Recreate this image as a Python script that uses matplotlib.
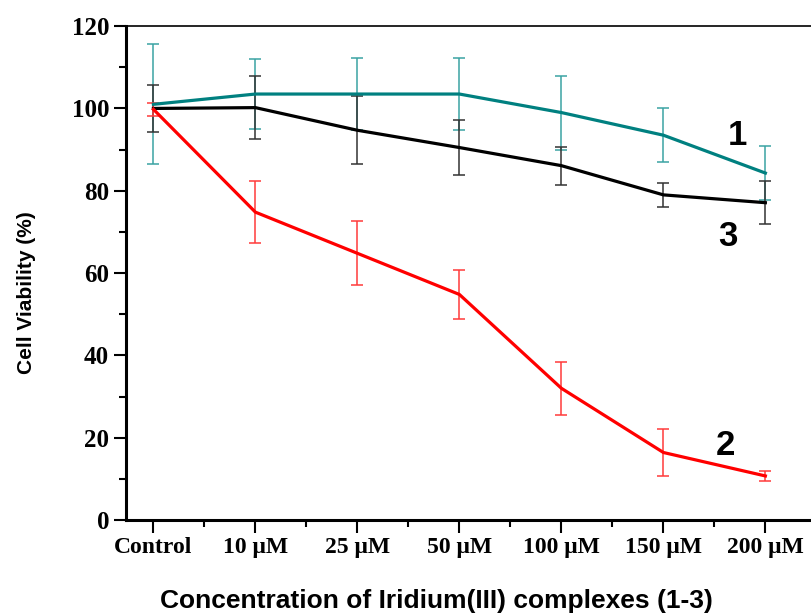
import numpy as np
import matplotlib
matplotlib.use("Agg")
import matplotlib.pyplot as plt

# tick labels / categories
labels = ["Control", "10 \u03bcM", "25 \u03bcM", "50 \u03bcM", "100 \u03bcM", "150 \u03bcM", "200 \u03bcM"]

# complex 1 (teal)
v1 = [101.0, 103.5, 103.5, 103.5, 99.0, 93.5, 84.3]
e1 = [14.6, 8.6, 8.7, 8.7, 9.0, 6.5, 6.5]
# complex 2 (red)
v2 = [99.8, 74.8, 64.8, 54.8, 32.0, 16.4, 10.7]
e2 = [1.6, 7.5, 7.8, 5.9, 6.4, 5.6, 1.3]
# complex 3 (black)
v3 = [100.0, 100.2, 94.7, 90.5, 86.1, 79.0, 77.1]
e3 = [5.8, 7.6, 8.3, 6.6, 4.6, 3.0, 5.3]

serif = "Liberation Serif"
sans = "Liberation Sans"

fig = plt.figure(figsize=(8.12, 6.15), dpi=100)
ax = fig.add_axes([0.155, 0.1545, 0.8504, 0.803])

x = np.arange(len(labels))

series = [
    (v1, e1, "#008080", "#3aa3a3"),
    (v3, e3, "black", "#333333"),
    (v2, e2, "#ff0000", "#ff3b3b"),
]
for vals, errs, lc, ec in series:
    ax.errorbar(x, vals, yerr=errs, color=lc, ecolor=ec, lw=2.3,
                elinewidth=1.1, capsize=4.5, capthick=1.1)

# curve numbers
ax.text(5.63, 91, "1", fontsize=25, fontweight="bold", family=sans)
ax.text(5.54, 66.5, "3", fontsize=25, fontweight="bold", family=sans)
ax.text(5.51, 15.8, "2", fontsize=25, fontweight="bold", family=sans)

ax.set_xlim(-0.27, 6.5)
ax.set_ylim(0, 120)
ax.set_xticks(x)
ax.set_xticklabels(labels, fontsize=17, fontweight="bold", family=serif)
ax.set_xticks(x[:-1] + 0.5, minor=True)
ax.set_yticks(np.arange(0, 121, 20))
ax.set_yticks(np.arange(10, 120, 20), minor=True)
for t in ax.get_yticklabels():
    t.set_fontsize(18)
    t.set_fontweight("bold")
    t.set_family(serif)

ax.tick_params(which="major", direction="out", length=9, width=1.5, pad=3)
ax.tick_params(which="minor", direction="out", length=5, width=1.5)
ax.tick_params(axis="x", which="both", top=False)

for s in ["left", "bottom"]:
    ax.spines[s].set_linewidth(2.2)
ax.spines["top"].set_linewidth(1.2)
ax.spines["right"].set_visible(False)

ax.set_ylabel("Cell Viability (%)", fontsize=15, fontweight="bold", family=sans)
ax.yaxis.set_label_coords(-0.13, 0.46)
ax.set_xlabel("Concentration of Iridium(III) complexes (1-3)", fontsize=19,
              fontweight="bold", family=sans, va="center")
ax.xaxis.set_label_coords(0.45, -0.164)

fig.savefig("out.png", dpi=100)
